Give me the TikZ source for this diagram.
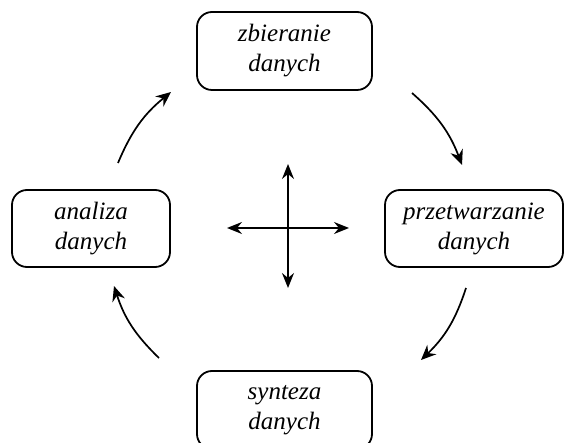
\documentclass[tikz,border=0pt]{standalone}
\usepackage{fontspec}
\setmainfont{Liberation Serif}
\usetikzlibrary{arrows.meta}
\begin{document}
\begin{tikzpicture}[x=1pt,y=-1pt,
  box/.style={draw,line width=1.8pt,rounded corners=15pt,align=center,
    font=\fontsize{25}{30}\selectfont\itshape,inner sep=0pt},
  flow/.style={-{Stealth[length=15pt,width=13pt,inset=5pt]},line width=1.7pt},
  cross/.style={{Stealth[length=15pt,width=12pt,inset=5pt]}-{Stealth[length=15pt,width=12pt,inset=5pt]},line width=1.6pt}]
\useasboundingbox (0,0) rectangle (565,443);
\node[box,minimum width=175pt,minimum height=78pt] (zb) at (284.5,51) {zbieranie\\danych};
\node[box,minimum width=178pt,minimum height=77pt] (pr) at (474,228.5) {przetwarzanie\\danych};
\node[box,minimum width=158pt,minimum height=77pt] (an) at (91,228.5) {analiza\\danych};
\node[box,minimum width=175pt,minimum height=78pt] (sy) at (284.5,410) {synteza\\danych};
\coordinate (a1s) at (118,163);
\coordinate (a1e) at (171,92);
\coordinate (a2s) at (412,93);
\coordinate (a2e) at (462,165);
\coordinate (a3s) at (466,288);
\coordinate (a3e) at (421,360);
\coordinate (a4s) at (159,358);
\coordinate (a4e) at (114,286);
\draw[flow] (a1s) to[bend left=14] (a1e);
\draw[flow] (a2s) to[bend left=14] (a2e);
\draw[flow] (a3s) to[bend left=14] (a3e);
\draw[flow] (a4s) to[bend left=14] (a4e);
\coordinate (cl) at (227,228);
\coordinate (cr) at (349,228);
\coordinate (ct) at (288,164);
\coordinate (cb) at (288,288);
\draw[cross] (cl) -- (cr);
\draw[cross] (ct) -- (cb);
\end{tikzpicture}
\end{document}
